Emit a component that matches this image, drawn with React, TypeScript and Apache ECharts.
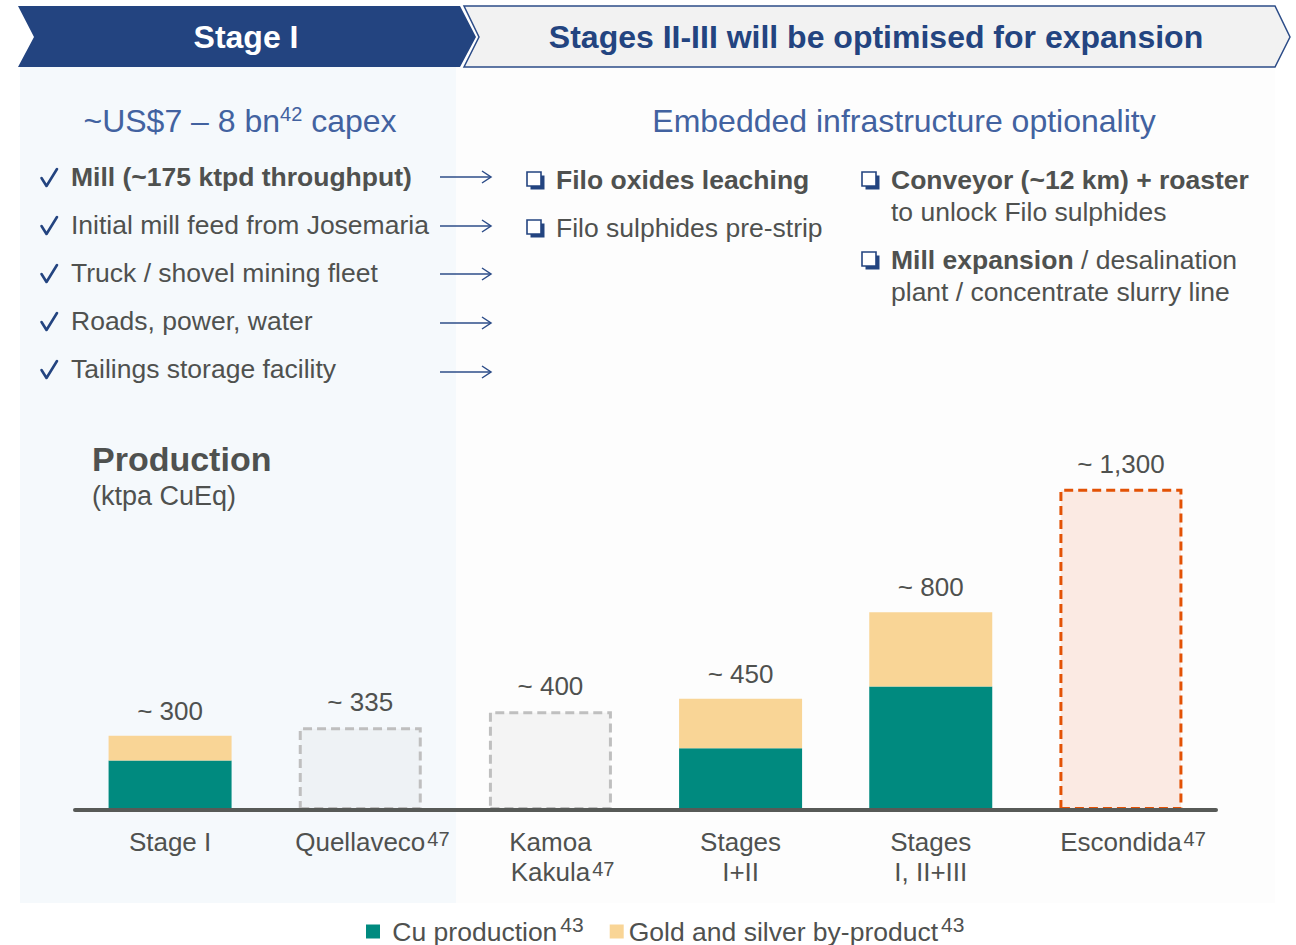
import React, { useEffect, useRef } from 'react';
import * as echarts from 'echarts';

// ---------- data ----------
const categories = ['Stage I', 'Quellaveco', 'Kamoa\nKakula', 'Stages\nI+II', 'Stages\nI, II+III', 'Escondida'];
const categoryNotes = ['', '47', '47', '', '', '47'];
const cuProduction: (number | string)[] = [200, '-', '-', 250, 500, '-'];
const goldSilver: (number | string)[] = [100, '-', '-', 200, 300, '-'];
const peerMines: (number | string)[] = ['-', 335, 400, '-', '-', 1300];
const seriesNames = ['Cu production', 'Gold and silver by-product', 'Peer mines'];
const seriesNotes = ['43', '43'];

const stageOneItems = [
  'Mill (~175 ktpd throughput)',
  'Initial mill feed from Josemaria',
  'Truck / shovel mining fleet',
  'Roads, power, water',
  'Tailings storage facility',
];
const expansionCol1 = ['{b|Filo oxides leaching}', 'Filo sulphides pre-strip'];
const expansionCol2a = ['{b|Conveyor (~12 km) + roaster}', 'to unlock Filo sulphides'];
const expansionCol2b = ['{b|Mill expansion} / desalination', 'plant / concentrate slurry line'];

// ---------- styles ----------
const FONT = '"Liberation Sans", Arial, sans-serif';
const GREY = '#4f514f';
const NAVY = '#234480';
const SUBBLUE = '#4262a0';
const TEAL = '#008a7f';
const GOLD = '#f9d596';
const peerFill = ['', '#eef2f5', '#f4f4f4', '', '', '#fbeae3'];
const peerBorder = ['', '#bfbfbf', '#bfbfbf', '', '', '#e35205'];

const fmt = (v: number) => '~ ' + v.toLocaleString('en-US');

function buildGraphics() {
  const els: any[] = [];
  // backgrounds
  els.push({ type: 'rect', z: -10, shape: { x: 20, y: 67, width: 436, height: 836 }, style: { fill: '#f5f9fc' }, silent: true });
  els.push({ type: 'rect', z: -10, shape: { x: 456, y: 67, width: 819, height: 836 }, style: { fill: '#fdfdfd' }, silent: true });
  // header chevrons
  els.push({
    type: 'polygon', z: 1,
    shape: { points: [[18, 6], [460, 6], [476, 37], [460, 67], [18, 67], [34, 37]] },
    style: { fill: NAVY },
  });
  els.push({
    type: 'polygon', z: 1,
    shape: { points: [[464, 6], [1275, 6], [1290, 37], [1275, 67], [464, 67], [479, 37]] },
    style: { fill: '#f2f2f2', stroke: '#2c4c88', lineWidth: 1.5 },
  });
  els.push({ type: 'text', z: 2, x: 246, y: 37, style: { text: 'Stage I', fill: '#ffffff', font: `bold 32px ${FONT}`, textAlign: 'center', textVerticalAlign: 'middle' } });
  els.push({ type: 'text', z: 2, x: 876, y: 37, style: { text: 'Stages II-III will be optimised for expansion', fill: NAVY, font: `bold 32px ${FONT}`, textAlign: 'center', textVerticalAlign: 'middle' } });
  // subtitles
  els.push({
    type: 'text', z: 2, x: 240, y: 121,
    style: {
      text: '~US$7 – 8 bn{sup|42} capex', fill: SUBBLUE, fontSize: 32, fontFamily: FONT,
      textAlign: 'center', textVerticalAlign: 'middle',
      rich: { sup: { fontSize: 20, fill: SUBBLUE, fontFamily: FONT, verticalAlign: 'middle', padding: [0, 0, 14, 0] } },
    },
  });
  els.push({ type: 'text', z: 2, x: 904, y: 121, style: { text: 'Embedded infrastructure optionality', fill: SUBBLUE, fontSize: 32, fontFamily: FONT, textAlign: 'center', textVerticalAlign: 'middle' } });
  // stage I checklist
  const rowY = [177, 225, 273, 321, 369];
  const arrowY = [177, 226, 274, 323, 372];
  stageOneItems.forEach((t, i) => {
    const cy = rowY[i];
    els.push({
      type: 'polyline', z: 2,
      shape: { points: [[41.5, cy + 1], [46.5, cy + 9], [57, cy - 8]] },
      style: { stroke: NAVY, lineWidth: 2.6, fill: null, lineJoin: 'round', lineCap: 'round' },
    });
    els.push({ type: 'text', z: 2, x: 71, y: cy, style: { text: t, fill: GREY, font: `${i === 0 ? 'bold ' : ''}26.5px ${FONT}`, textVerticalAlign: 'middle' } });
    const y = arrowY[i];
    els.push({ type: 'line', z: 2, shape: { x1: 440, y1: y, x2: 491, y2: y }, style: { stroke: '#2c4c88', lineWidth: 1.5 } });
    els.push({ type: 'polyline', z: 2, shape: { points: [[482, y - 6], [491, y], [482, y + 6]] }, style: { stroke: '#2c4c88', lineWidth: 1.5, fill: null } });
  });
  // boxes
  const box = (x: number, y: number) => {
    els.push({ type: 'rect', z: 2, shape: { x: x + 3.5, y: y - 4.5, width: 14, height: 14 }, style: { fill: NAVY } });
    els.push({ type: 'rect', z: 3, shape: { x: x, y: y - 8, width: 14, height: 14 }, style: { fill: '#ffffff', stroke: NAVY, lineWidth: 1.6 } });
  };
  const richB = { b: { fontWeight: 'bold', fontSize: 26.5, fontFamily: FONT, fill: GREY } };
  const listText = (x: number, y: number, t: string) => {
    els.push({ type: 'text', z: 2, x, y, style: { text: t, fill: GREY, fontSize: 26.5, fontFamily: FONT, textVerticalAlign: 'middle', rich: richB } });
  };
  box(527, 180); listText(556, 180, expansionCol1[0]);
  box(527, 228); listText(556, 228, expansionCol1[1]);
  box(862, 180); listText(891, 180, expansionCol2a[0]); listText(891, 212, expansionCol2a[1]);
  box(862, 260); listText(891, 260, expansionCol2b[0]); listText(891, 292, expansionCol2b[1]);
  // production title
  els.push({ type: 'text', z: 2, x: 92, y: 459, style: { text: 'Production', fill: GREY, font: `bold 34px ${FONT}`, textVerticalAlign: 'middle' } });
  els.push({ type: 'text', z: 2, x: 92, y: 496, style: { text: '(ktpa CuEq)', fill: GREY, font: `27px ${FONT}`, textVerticalAlign: 'middle' } });
  return els;
}

export default function App() {
  const ref = useRef<HTMLDivElement>(null);
  useEffect(() => {
    if (!ref.current) return;
    const chart = echarts.init(ref.current, undefined, { renderer: 'svg' });
    const catSup = { fontSize: 20, fontFamily: FONT, color: GREY, verticalAlign: 'middle' as const, padding: [0, 0, 7, 2] };
    const catGhost = { ...catSup, color: 'rgba(0,0,0,0)' };
    const legSup = { fontSize: 21, fontFamily: FONT, color: GREY, verticalAlign: 'middle' as const, padding: [0, 0, 14, 3] };
    const labelStyle = { show: true, position: 'top' as const, distance: 12, fontSize: 26, fontFamily: FONT, color: GREY };
    chart.setOption({
      animation: false,
      backgroundColor: '#ffffff',
      graphic: { elements: buildGraphics() },
      grid: { left: 75, right: 80, top: 464, bottom: 135, containLabel: false },
      legend: {
        data: seriesNames.slice(0, 2),
        left: 366, top: 914, padding: 0,
        icon: 'rect', itemWidth: 14, itemHeight: 14, itemGap: 26,
        formatter: (name: string) => {
          const i = seriesNames.indexOf(name);
          return (i === 0 ? ' ' : '') + name + '{sup|' + seriesNotes[i] + '}';
        },
        textStyle: { fontSize: 26.5, fontFamily: FONT, color: GREY, rich: { sup: legSup } },
      },
      xAxis: {
        type: 'category', data: categories, z: 5,
        axisLine: { lineStyle: { color: '#575a57', width: 4 } },
        axisTick: { show: false },
        axisLabel: {
          interval: 0, margin: 17, fontSize: 26, fontFamily: FONT, color: GREY, lineHeight: 30,
          formatter: (v: string, i: number) => {
            const note = categoryNotes[i];
            if (!note) return v;
            const lines = v.split('\n');
            const last = lines.length - 1;
            lines[last] = '{ghost|' + note + '}' + lines[last] + '{sup|' + note + '}';
            return lines.join('\n');
          },
          rich: { sup: catSup, ghost: catGhost },
        },
      },
      yAxis: { type: 'value', min: 0, max: 1400, show: false, splitLine: { show: false } },
      series: [
        {
          name: seriesNames[0], type: 'bar', stack: 'p', barWidth: 123,
          data: cuProduction, itemStyle: { color: TEAL },
        },
        {
          name: seriesNames[1], type: 'bar', stack: 'p', barWidth: 123,
          data: goldSilver, itemStyle: { color: GOLD },
          label: { ...labelStyle, formatter: (p: any) => fmt((cuProduction[p.dataIndex] as number) + (goldSilver[p.dataIndex] as number)) },
        },
        {
          name: seriesNames[2], type: 'bar', stack: 'p', barWidth: 123,
          data: peerMines.map((v, i) => v === '-' ? '-' : {
            value: v,
            itemStyle: { color: peerFill[i], borderColor: peerBorder[i], borderWidth: 3, borderType: [9, 5] },
          }),
          label: { ...labelStyle, formatter: (p: any) => fmt(p.value as number) },
        },
      ],
    });
    return () => chart.dispose();
  }, []);
  return <div ref={ref} style={{ position: 'absolute', left: 0, top: 0, width: 1296, height: 945 }} />;
}
